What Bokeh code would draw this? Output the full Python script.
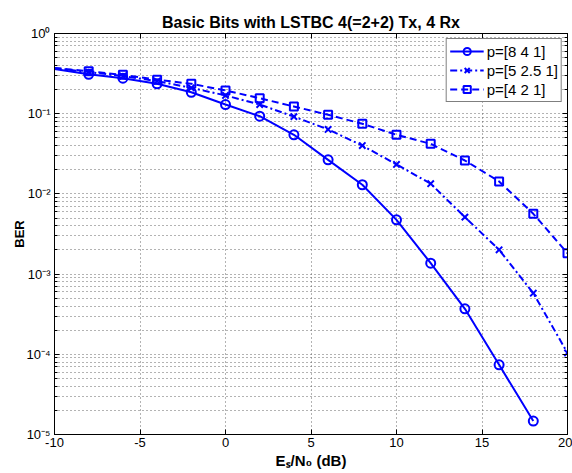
from bokeh.plotting import figure
from bokeh.models import (Range1d, FixedTicker, LinearAxis, Legend, LegendItem, Title,
                          CustomJSTickFormatter)
from bokeh.embed import file_html
from bokeh.resources import INLINE

# ---------------- data ----------------
snr_db = [-10, -8, -6, -4, -2, 0, 2, 4, 6, 8, 10, 12, 14, 16, 18, 20]
ber_841 = [0.36, 0.31, 0.277, 0.236, 0.185, 0.130, 0.093, 0.0546, 0.0266, 0.013,
           0.00475, 0.00137, 0.000369, 7.4e-5, 1.47e-5]
ber_5251 = [0.37, 0.33, 0.295, 0.255, 0.21, 0.169, 0.130, 0.092, 0.0636, 0.0401,
            0.0233, 0.0134, 0.00513, 0.00201, 0.000578, 0.000104]
ber_421 = [0.372, 0.339, 0.305, 0.265, 0.236, 0.195, 0.156, 0.123, 0.097, 0.0748,
           0.0546, 0.0421, 0.0261, 0.0143, 0.00565, 0.00182]
labels = ["p=[8 4 1]", "p=[5 2.5 1]", "p=[4 2 1]"]
x_ticks = [-10, -5, 0, 5, 10, 15, 20]
y_exps = [0, -1, -2, -3, -4, -5]

title_text = "Basic Bits with LSTBC 4(=2+2) Tx, 4 Rx"
x_label = "E\u209b/N\u2080 (dB)"
y_label = "BER"
FONT = "Liberation Sans"
BLUE = "#0000ff"

W, H = 572, 473
p = figure(width=W, height=H, output_backend="svg", toolbar_location=None,
           x_range=Range1d(-10, 20), y_range=Range1d(1e-5, 1), y_axis_type="log",
           min_border_left=54, min_border_right=5, min_border_top=33, min_border_bottom=39,
           background_fill_color="white", border_fill_color="white")
p.outline_line_color = "black"
p.outline_line_width = 1

minor_y = [m * 10.0 ** e for e in range(-5, 0) for m in range(2, 10)]
yt = FixedTicker(ticks=[10.0 ** e for e in y_exps], minor_ticks=minor_y)
xt = FixedTicker(ticks=x_ticks, minor_ticks=[])
blank = CustomJSTickFormatter(code="return ''")
plain = CustomJSTickFormatter(code="return tick.toString()")
pow10 = CustomJSTickFormatter(code="""
const sup = {'0':'\u2070','1':'\u00b9','2':'\u00b2','3':'\u00b3','4':'\u2074','5':'\u2075',
             '6':'\u2076','7':'\u2077','8':'\u2078','9':'\u2079','-':'\u207b'};
const e = Math.round(Math.log10(tick));
return '10' + String(e).split('').map(c => sup[c]).join('');
""")

for ax in p.xaxis:
    ax.ticker = xt
    ax.formatter = plain
    ax.major_tick_in = 5
    ax.major_tick_out = 0
    ax.minor_tick_in = 0
    ax.minor_tick_out = 0
    ax.major_label_text_font = FONT
    ax.major_label_text_font_size = "13px"
    ax.major_label_text_color = "black"
    ax.major_label_standoff = 3
    ax.axis_line_color = "black"
    ax.axis_label = x_label
    ax.axis_label_text_font = FONT
    ax.axis_label_text_font_size = "15px"
    ax.axis_label_text_font_style = "bold"
    ax.axis_label_text_color = "black"
    ax.axis_label_standoff = 2
for ax in p.yaxis:
    ax.ticker = yt
    ax.formatter = pow10
    ax.major_tick_in = 5
    ax.major_tick_out = 0
    ax.minor_tick_in = 3
    ax.minor_tick_out = 0
    ax.major_label_text_font = FONT
    ax.major_label_text_font_size = "13px"
    ax.major_label_text_color = "black"
    ax.major_label_standoff = 4
    ax.axis_line_color = "black"
    ax.axis_label = y_label
    ax.axis_label_text_font = FONT
    ax.axis_label_text_font_size = "13px"
    ax.axis_label_text_font_style = "bold"
    ax.axis_label_text_color = "black"
    ax.axis_label_standoff = -4

top_ax = LinearAxis(ticker=xt, formatter=blank, major_tick_in=5, major_tick_out=0,
                    minor_tick_in=0, minor_tick_out=0, major_label_standoff=6,
                    axis_line_color="black")
right_ax = LinearAxis(ticker=yt, formatter=blank, major_tick_in=5, major_tick_out=0,
                      minor_tick_in=3, minor_tick_out=0, major_label_standoff=0,
                      axis_line_color="black")
p.add_layout(top_ax, "above")
p.add_layout(right_ax, "right")
p.add_layout(Title(text=title_text, align="center", vertical_align="top", text_font=FONT,
                   text_font_size="16px", text_font_style="bold", text_color="black",
                   standoff=2), "above")

# grid
p.xgrid.ticker = xt
p.ygrid.ticker = yt
for g in (p.xgrid, p.ygrid):
    g.grid_line_color = "#666666"
    g.grid_line_dash = "1 3"
    g.grid_line_width = 1
p.ygrid.minor_grid_line_color = "#666666"
p.ygrid.minor_grid_line_dash = "1 3"
p.ygrid.minor_grid_line_width = 1

# series
n1 = len(ber_841)
r1l = p.line(snr_db[:n1], ber_841, line_color=BLUE, line_width=2)
r1m = p.scatter(snr_db[1:n1], ber_841[1:], marker="circle", size=9, fill_color=None,
                line_color=BLUE, line_width=2)
r2l = p.line(snr_db, ber_5251, line_color=BLUE, line_width=2, line_dash="7 3 2 3")
r2m = p.scatter(snr_db[1:], ber_5251[1:], marker="x", size=9, line_color=BLUE, line_width=2)
r3l = p.line(snr_db, ber_421, line_color=BLUE, line_width=2, line_dash="7 4")
r3m = p.scatter(snr_db[1:], ber_421[1:], marker="square", size=8, fill_color=None,
                line_color=BLUE, line_width=2)

legend = Legend(items=[LegendItem(label=labels[0], renderers=[r1l, r1m]),
                       LegendItem(label=labels[1], renderers=[r2l, r2m]),
                       LegendItem(label=labels[2], renderers=[r3l, r3m])],
                location="top_right", margin=5, padding=3, spacing=1,
                glyph_width=34, glyph_height=18, label_height=18, label_standoff=3,
                label_text_font=FONT, label_text_font_size="15px", label_text_color="black",
                border_line_color="black", border_line_width=1, background_fill_alpha=1.0)
p.add_layout(legend, "center")

open("out.html", "w").write(file_html(p, INLINE))
